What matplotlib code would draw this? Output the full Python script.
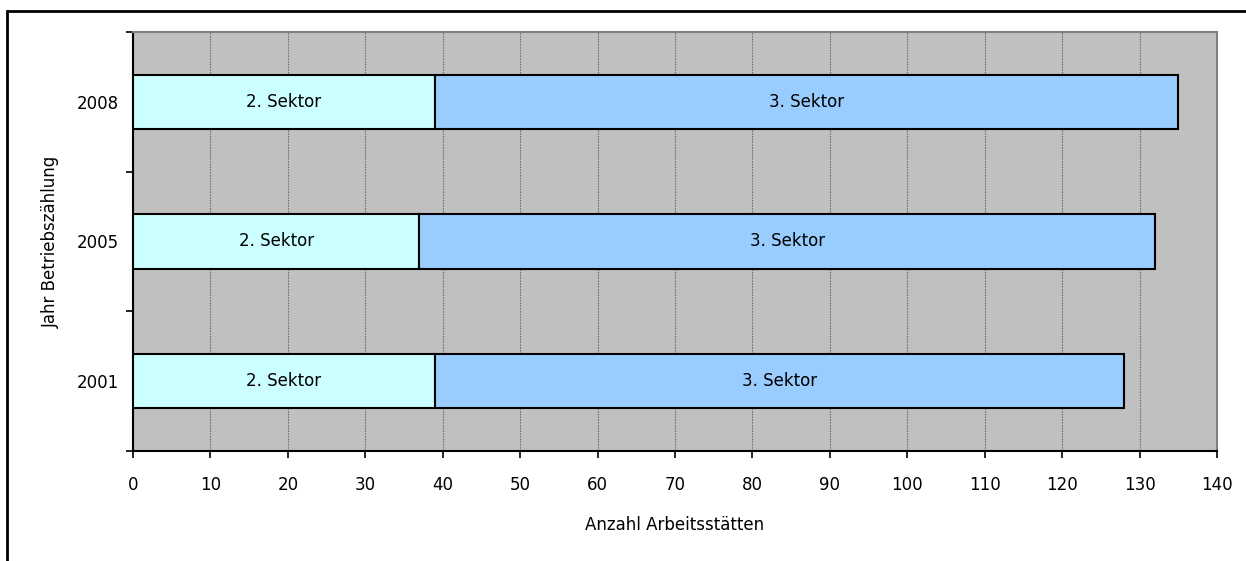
import matplotlib
matplotlib.use('Agg')
import matplotlib.pyplot as plt
import numpy as np
from matplotlib.patches import Rectangle

# Arbeitsstätten nach Sektor und Zähljahr
years = ['2001', '2005', '2008']
sektor2 = [39, 37, 39]
sektor3 = [89, 95, 96]
seg_labels = ['2. Sektor', '3. Sektor']
x_ticks = list(range(0, 141, 10))

plt.rcParams['font.family'] = 'DejaVu Sans'
plt.rcParams['font.size'] = 12

fig = plt.figure(figsize=(12.46, 5.61), dpi=100)
ax = fig.add_axes([133 / 1246, 110 / 561, 1084 / 1246, 419 / 561])

# outer chart frame (right/bottom run off the image)
fig.patches.append(Rectangle((6.5 / 1246, -0.05), 1.2, 1 - 11 / 561 + 0.05,
                             transform=fig.transFigure, fill=False,
                             edgecolor='black', linewidth=2, zorder=0))

ax.set_facecolor('#C0C0C0')
y = np.arange(len(years))
h = 0.39
b2 = ax.barh(y, sektor2, height=h, color='#CCFFFF', edgecolor='black', linewidth=1.5, zorder=3)
b3 = ax.barh(y, sektor3, left=sektor2, height=h, color='#99CCFF', edgecolor='black', linewidth=1.5, zorder=3)
ax.bar_label(b2, labels=[seg_labels[0]] * len(years), label_type='center', fontsize=12)
ax.bar_label(b3, labels=[seg_labels[1]] * len(years), label_type='center', fontsize=12)

ax.set_xlim(0, 140)
ax.set_ylim(-0.5, 2.5)
ax.set_xticks(x_ticks)
ax.set_xticklabels([str(v) for v in x_ticks])
ax.xaxis.grid(True, color='#707070', linestyle=(0, (1.5, 1)), linewidth=0.8, zorder=1)

# category separators as major ticks, year labels on minor ticks
ax.set_yticks([-0.5, 0.5, 1.5, 2.5])
ax.set_yticklabels([])
ax.set_yticks(y, minor=True)
ax.set_yticklabels(years, minor=True)
ax.tick_params(axis='y', which='minor', length=0, pad=10)
ax.tick_params(axis='y', which='major', length=5, width=1.2, direction='out')
ax.tick_params(axis='x', length=5, width=1.2, direction='out', pad=13)

for side in ['top', 'right']:
    ax.spines[side].set_color('#808080')
    ax.spines[side].set_linewidth(1.5)
for side in ['left', 'bottom']:
    ax.spines[side].set_color('black')
    ax.spines[side].set_linewidth(1.5)

ax.set_xlabel('Anzahl Arbeitsstätten', fontsize=12, labelpad=16)
ax.set_ylabel('Jahr Betriebszählung', fontsize=12, labelpad=12)

fig.savefig('out.png', dpi=100)
